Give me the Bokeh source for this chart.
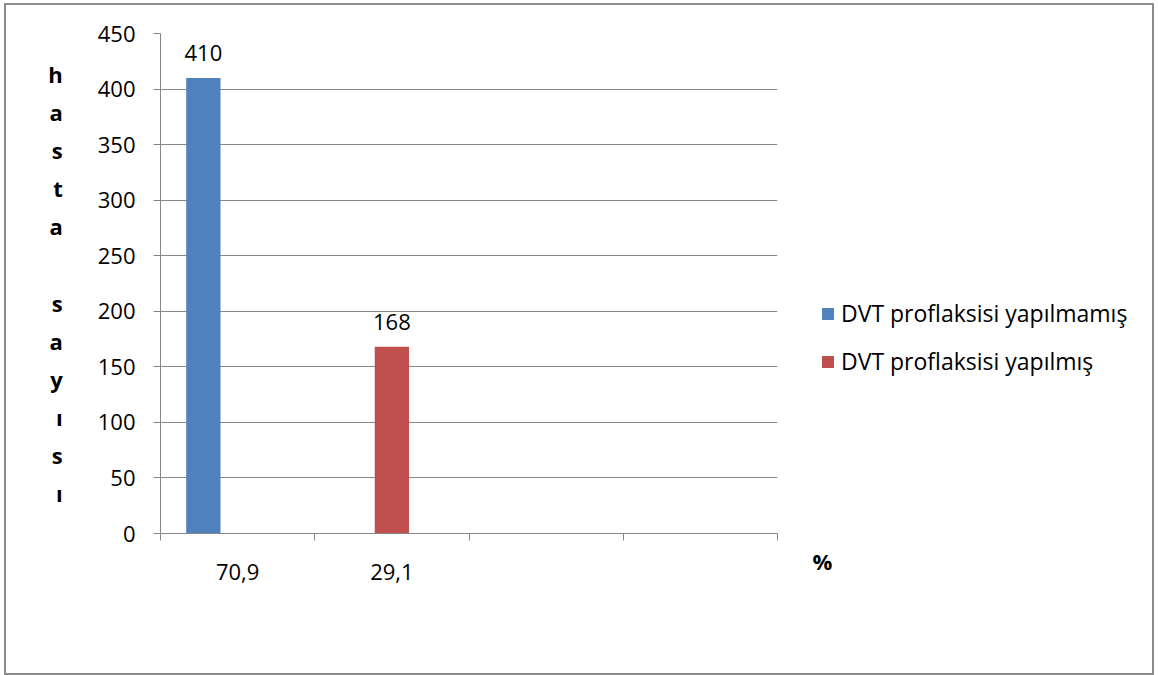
from bokeh.plotting import figure
from bokeh.layouts import row
from bokeh.models import Range1d, FixedTicker, Label, LabelSet, ColumnDataSource
from bokeh.core.properties import value
from bokeh.embed import file_html
from bokeh.resources import INLINE

# Data
categories = ["70,9", "29,1", "", ""]
series_names = ["DVT proflaksisi yapılmamış", "DVT proflaksisi yapılmış"]
yapilmamis = [410, None, None, None]
yapilmis = [None, 168, None, None]
series_values = [yapilmamis, yapilmis]
series_colors = ["#4F81BD", "#C0504D"]
y_ticks = [0, 50, 100, 150, 200, 250, 300, 350, 400, 450]
y_title = "hasta sayısı"
x_title = "%"

FONT = "Open Sans"
FS = "22px"
AXIS_GREY = "#868686"

n_cat = len(categories)
slots = 3                      # clustered slots per category
gap = 1.5                      # gap width (fraction of a bar)
bar_w = 1.0 / (slots + gap)

H = 668

# ---- main chart -------------------------------------------------------------
p = figure(width=774, height=H, output_backend="svg", toolbar_location=None,
           x_range=Range1d(0, n_cat), y_range=Range1d(0, 450),
           min_border_left=154, min_border_right=3,
           min_border_top=28, min_border_bottom=H - 528)
p.outline_line_color = None
p.background_fill_color = "white"
p.border_fill_color = "white"

sources = []
for s, (name, vals, color) in enumerate(zip(series_names, series_values, series_colors)):
    xs, ys = [], []
    for i, v in enumerate(vals):
        if v is not None:
            xs.append(i + 0.5 + (s - 1) * bar_w)
            ys.append(v)
    src = ColumnDataSource(dict(x=xs, top=ys, lbl=[str(v) for v in ys]))
    sources.append(src)
    p.vbar(x="x", top="top", width=bar_w, bottom=0, source=src,
           fill_color=color, line_color=None)
    p.add_layout(LabelSet(x="x", y="top", text="lbl", source=src,
                          text_align="center", text_baseline="alphabetic",
                          y_offset=17, text_font=value(FONT), text_font_size=FS,
                          text_color="black"))

# Y axis with a letter-stacked title
yax = p.yaxis[0]
yax.ticker = FixedTicker(ticks=y_ticks)
yax.axis_line_color = AXIS_GREY
yax.major_tick_line_color = AXIS_GREY
yax.major_tick_out = 7
yax.major_tick_in = 0
yax.minor_tick_line_color = None
yax.major_label_standoff = 18
yax.major_label_text_font = FONT
yax.major_label_text_font_size = FS
yax.major_label_text_color = "black"
yax.axis_label = "\n".join(y_title)
yax.axis_label_orientation = "horizontal"
yax.axis_label_standoff = 32
yax.axis_label_text_font = FONT
yax.axis_label_text_font_size = FS
yax.axis_label_text_font_style = "bold"
yax.axis_label_text_line_height = 1.27
yax.axis_label_text_color = "black"

# X axis: labels at category centres, ticks at category boundaries
xax = p.xaxis[0]
centers = [i + 0.5 for i in range(n_cat)]
xax.ticker = FixedTicker(ticks=centers, minor_ticks=list(range(n_cat + 1)))
xax.major_label_overrides = {c: lab for c, lab in zip(centers, categories)}
xax.axis_line_color = AXIS_GREY
xax.major_tick_line_color = None
xax.major_tick_out = 0
xax.major_tick_in = 0
xax.minor_tick_line_color = AXIS_GREY
xax.minor_tick_out = 7
xax.minor_tick_in = 0
xax.major_label_standoff = 23
xax.major_label_text_font = FONT
xax.major_label_text_font_size = FS
xax.major_label_text_color = "black"

p.xgrid.grid_line_color = None
p.ygrid.grid_line_color = AXIS_GREY
p.ygrid.ticker = FixedTicker(ticks=y_ticks)

# ---- side panel: legend and the percent sign ---------------------------------
side_w = 372
side = figure(width=side_w, height=H, output_backend="svg", toolbar_location=None,
              x_range=Range1d(0, side_w), y_range=Range1d(0, H),
              x_axis_location=None, y_axis_location=None,
              min_border=0)
side.frame_align = False
side.outline_line_color = None
side.grid.visible = False
side.background_fill_color = "white"
side.border_fill_color = "white"

# zero-width proxies of the series, used only to carry the legend swatches
for name, color, src in zip(series_names, series_colors, sources):
    side.vbar(x="x", top="top", width=0, bottom=0, source=src,
              fill_color=color, line_color=None, legend_label=name)

lg = side.legend[0]
lg.location = (40, 296)
lg.padding = 0
lg.margin = 0
lg.border_line_color = None
lg.background_fill_alpha = 0
lg.glyph_width = 15
lg.glyph_height = 15
lg.label_standoff = 6
lg.label_height = 32
lg.spacing = 16
lg.label_text_font = FONT
lg.label_text_font_size = "23px"
lg.label_text_color = "black"

side.add_layout(Label(x=42, y=113, x_units="screen", y_units="screen", text=x_title,
                      text_align="center", text_baseline="alphabetic", text_font=FONT,
                      text_font_size=FS, text_font_style="bold", text_color="black"))

layout = row(p, side, margin=(3, 0, 0, 4),
             styles={"border": "2px solid #8c8c8c"})

open("out.html", "w").write(file_html(layout, INLINE))
